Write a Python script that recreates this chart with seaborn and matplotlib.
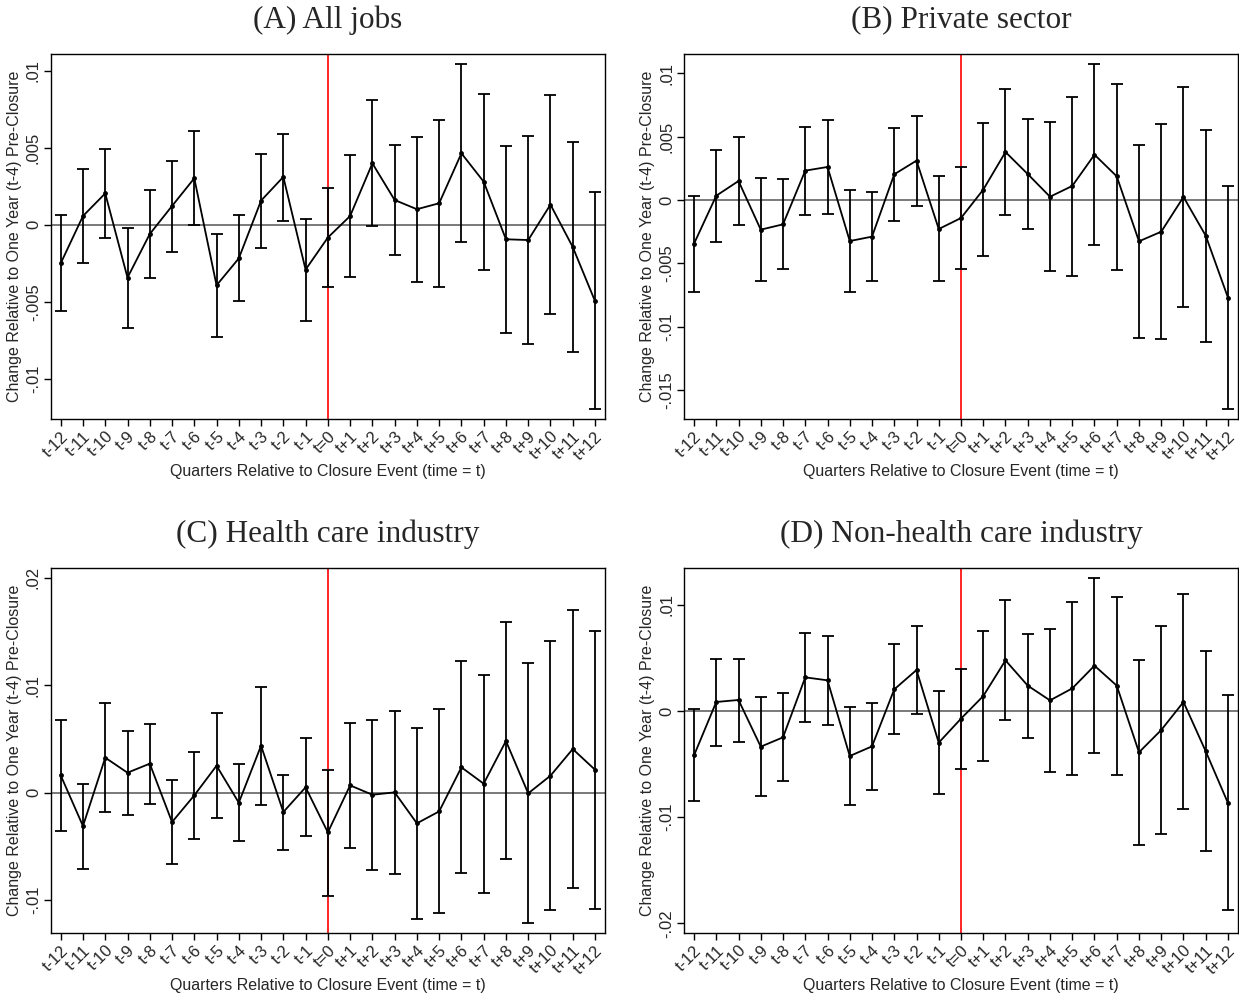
import numpy as np
import pandas as pd
import matplotlib
matplotlib.use("Agg")
import matplotlib.pyplot as plt
import seaborn as sns

sns.set_theme(style="white")
plt.rcParams['font.family'] = ['Liberation Sans', 'DejaVu Sans']

quarters = list(range(-12, 13))
tick_labels = [f"t{q}" if q < 0 else ("t=0" if q == 0 else f"t+{q}") for q in quarters]

titles = ["(A) All jobs", "(B) Private sector", "(C) Health care industry", "(D) Non-health care industry"]

# values in units of 0.001
a_pt = [-2.51, 0.56, 2.03, -3.44, -0.61, 1.21, 3.01, -3.94, -2.19, 1.56, 3.10, -2.92, -0.84,
        0.56, 3.98, 1.60, 1.00, 1.39, 4.63, 2.79, -0.95, -1.00, 1.30, -1.45, -4.96]
a_hi = [0.61, 3.59, 4.89, -0.19, 2.25, 4.16, 6.06, -0.58, 0.61, 4.59, 5.91, 0.35, 2.36,
        4.52, 8.10, 5.17, 5.71, 6.82, 10.43, 8.51, 5.11, 5.78, 8.40, 5.39, 2.10]
a_lo = [-5.63, -2.51, -0.84, -6.73, -3.46, -1.75, 0.00, -7.27, -4.96, -1.52, 0.24, -6.26, -4.05,
        -3.40, -0.09, -1.97, -3.70, -4.03, -1.13, -2.94, -7.03, -7.77, -5.78, -8.29, -11.99]

b_pt = [-3.45, 0.34, 1.50, -2.34, -1.92, 2.32, 2.61, -3.24, -2.89, 2.03, 3.11, -2.29, -1.42,
        0.82, 3.79, 2.05, 0.26, 1.11, 3.58, 1.87, -3.26, -2.50, 0.24, -2.82, -7.71]
b_hi = [0.34, 3.92, 4.95, 1.76, 1.66, 5.79, 6.29, 0.82, 0.61, 5.68, 6.66, 1.87, 2.61,
        6.08, 8.74, 6.42, 6.13, 8.13, 10.74, 9.18, 4.34, 6.00, 8.92, 5.53, 1.13]
b_lo = [-7.29, -3.29, -1.95, -6.37, -5.45, -1.21, -1.11, -7.29, -6.39, -1.63, -0.47, -6.39, -5.42,
        -4.45, -1.16, -2.32, -5.61, -6.00, -3.53, -5.50, -10.87, -11.00, -8.45, -11.21, -16.53]

c_pt = [1.61, -3.10, 3.26, 1.86, 2.70, -2.73, -0.25, 2.51, -0.93, 4.37, -1.80, 0.50, -3.69,
        0.68, -0.19, 0.03, -2.85, -1.74, 2.36, 0.84, 4.81, -0.06, 1.58, 4.06, 2.14]
c_hi = [6.79, 0.78, 8.34, 5.77, 6.42, 1.18, 3.75, 7.41, 2.64, 9.86, 1.67, 5.05, 2.14,
        6.51, 6.79, 7.57, 5.98, 7.75, 12.22, 10.98, 15.84, 12.03, 14.11, 17.02, 15.07]
c_lo = [-3.60, -7.07, -1.80, -2.11, -1.05, -6.64, -4.28, -2.39, -4.53, -1.15, -5.33, -4.06, -9.58,
        -5.18, -7.19, -7.53, -11.72, -11.19, -7.47, -9.33, -6.20, -12.12, -10.95, -8.90, -10.82]

d_pt = [-4.18, 0.85, 1.04, -3.36, -2.48, 3.17, 2.89, -4.24, -3.33, 2.04, 3.86, -2.98, -0.72,
        1.41, 4.77, 2.39, 1.00, 2.13, 4.27, 2.39, -3.89, -1.79, 0.85, -3.80, -8.67]
d_hi = [0.16, 4.93, 4.93, 1.32, 1.66, 7.38, 7.10, 0.35, 0.72, 6.28, 7.97, 1.85, 3.92,
        7.50, 10.49, 7.28, 7.69, 10.24, 12.56, 10.71, 4.80, 8.04, 10.99, 5.65, 1.48]
d_lo = [-8.51, -3.27, -2.89, -7.97, -6.59, -1.07, -1.35, -8.85, -7.41, -2.17, -0.28, -7.85, -5.43,
        -4.68, -0.88, -2.57, -5.71, -6.00, -3.96, -6.00, -12.62, -11.62, -9.23, -13.22, -18.74]

ylims = [(-0.01262, 0.01108), (-0.01729, 0.01153), (-0.01305, 0.0209), (-0.02091, 0.01347)]
yticks = [[-0.01, -0.005, 0, 0.005, 0.01],
          [-0.015, -0.01, -0.005, 0, 0.005, 0.01],
          [-0.01, 0, 0.01, 0.02],
          [-0.02, -0.01, 0, 0.01]]

series = [(a_pt, a_hi, a_lo), (b_pt, b_hi, b_lo), (c_pt, c_hi, c_lo), (d_pt, d_hi, d_lo)]

def fmt(v):
    if abs(v) < 1e-12:
        return "0"
    s = f"{v:g}"
    s = s.replace("0.", ".")
    return s

fig = plt.figure(figsize=(12.39, 9.96), dpi=100)
W, H = 1239, 996
boxes = [(50.7, 54, 605, 419), (684, 54, 1238, 419), (50.7, 568, 605, 933), (684, 568, 1238, 933)]

for i, (pt, hi, lo) in enumerate(series):
    l, t, r, b = boxes[i]
    ax = fig.add_axes([l / W, 1 - b / H, (r - l) / W, (b - t) / H])
    df = pd.DataFrame({"q": quarters,
                       "est": np.array(pt) / 1000.0,
                       "hi": np.array(hi) / 1000.0,
                       "lo": np.array(lo) / 1000.0})
    ax.axhline(0, color="#555555", lw=1.1, zorder=1)
    ax.axvline(0, color="red", lw=1.2, zorder=1.5)
    ax.errorbar(df["q"], df["est"], yerr=[df["est"] - df["lo"], df["hi"] - df["est"]],
                fmt="none", ecolor="black", elinewidth=1.3, capsize=4.5, capthick=1.3, zorder=2)
    sns.lineplot(data=df, x="q", y="est", ax=ax, color="black", lw=1.3,
                 marker="o", markersize=3.5, markeredgewidth=0, zorder=3)
    ax.set_xlim(-12.45, 12.45)
    ax.set_ylim(*ylims[i])
    ax.set_xticks(quarters)
    ax.set_xticklabels(tick_labels, rotation=45, ha="right", rotation_mode="anchor", fontsize=12)
    ax.set_yticks(yticks[i])
    ax.set_yticklabels([fmt(v) for v in yticks[i]], rotation=90, va="center", fontsize=12)
    ax.tick_params(axis="both", direction="out", length=5, width=1, color="black",
                   bottom=True, left=True, pad=2)
    ax.set_xlabel("Quarters Relative to Closure Event (time = t)", fontsize=11.5, labelpad=1)
    ax.set_ylabel("Change Relative to One Year (t-4) Pre-Closure", fontsize=11.5, labelpad=3)
    ax.set_title(titles[i], fontsize=22.5, family=["Liberation Serif", "DejaVu Serif"], pad=19)
    for s in ax.spines.values():
        s.set_color("black")
        s.set_linewidth(1.0)
    ax.grid(False)

fig.savefig("out.png", dpi=100)
